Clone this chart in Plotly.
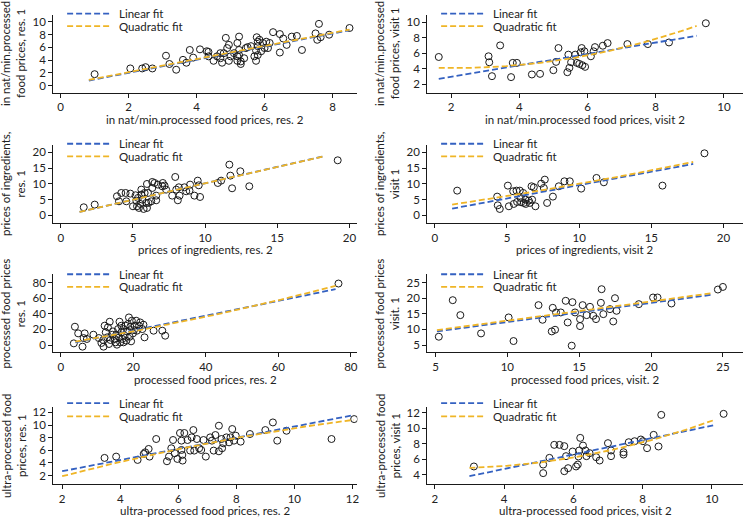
import numpy as np
import plotly.graph_objects as go

W, H = 750, 517

# ---- data ----
# panel 1: in nat/min.processed, residents
p1_x = [1.0, 2.05, 2.4, 2.5, 2.7, 3.1, 3.2, 3.4, 3.6, 3.7, 3.8, 3.9, 4.1, 4.3, 4.35, 4.35,
        4.5, 4.6, 4.7, 4.7, 4.75, 4.8, 4.86, 4.9, 4.95, 4.95, 5.0, 5.1, 5.2, 5.2, 5.2, 5.25,
        5.25, 5.25, 5.3, 5.3, 5.4, 5.45, 5.5, 5.6, 5.7, 5.75, 5.75, 5.77, 5.8, 5.8, 5.8, 5.85,
        5.9, 5.95, 6.0, 6.05, 6.1, 6.15, 6.25, 6.45, 6.45, 6.55, 6.65, 6.8, 6.95, 7.1, 7.5,
        7.55, 7.6, 7.65, 7.9, 8.5]
p1_y = [1.8, 2.7, 2.7, 2.9, 2.7, 4.7, 3.4, 2.5, 4.05, 3.6, 5.6, 4.4, 5.7, 5.4, 5.3, 4.6,
        3.9, 4.6, 5.1, 4.3, 3.6, 5.1, 7.5, 5.9, 3.9, 6.4, 4.6, 5.1, 4.6, 6.7, 3.9, 5.6,
        7.7, 4.8, 3.8, 3.4, 4.3, 5.9, 6.05, 6.2, 4.6, 3.9, 5.5, 7.6, 6.9, 6.2, 4.8, 7.2,
        5.4, 6.7, 5.9, 6.9, 5.9, 6.7, 8.4, 8.1, 5.2, 7.4, 6.4, 7.7, 7.8, 5.6, 8.2,
        7.2, 9.7, 7.6, 8.0, 9.05]

# panel 2: in nat/min.processed, visits
p2_x = [1.64, 3.10, 3.12, 3.2, 3.44, 3.76, 3.81, 3.93, 4.37, 4.61, 5.0, 5.08, 5.15, 5.41,
        5.44, 5.47, 5.52, 5.64, 5.69, 5.76, 5.8, 5.83, 5.85, 5.91, 5.93, 6.1, 6.18, 6.22,
        6.45, 6.59, 7.17, 7.77, 8.39, 9.47]
p2_y = [5.53, 5.62, 4.85, 3.06, 7.02, 2.94, 4.77, 4.77, 3.28, 3.36, 3.83, 4.9, 6.68, 3.57,
        5.83, 4.13, 4.85, 5.83, 4.77, 4.64, 6.13, 6.68, 4.47, 6.26, 4.26, 5.62, 6.26, 6.8,
        6.98, 7.32, 7.19, 7.19, 7.4, 9.87]

# panel 3: prices of ingredients, residents
p3_x = [1.59, 2.35, 3.89, 4.03, 4.19, 4.49, 4.54, 4.82, 5.0, 5.18, 5.23, 5.28, 5.35, 5.41,
        5.51, 5.58, 5.58, 5.65, 5.74, 5.81, 5.92, 5.97, 5.97, 6.04, 6.08, 6.27, 6.34, 6.34,
        6.5, 6.61, 6.61, 6.73, 7.03, 7.07, 7.19, 7.3, 7.72, 7.93, 8.0, 8.11, 8.18, 8.23,
        8.57, 8.69, 8.92, 8.96, 9.26, 9.49, 9.56, 9.65, 10.88, 11.11, 11.68, 11.75, 11.87,
        12.44, 13.06, 19.19]
p3_y = [2.54, 3.39, 6.03, 4.44, 7.09, 7.09, 4.44, 6.88, 2.86, 6.35, 4.66, 2.86, 5.5, 2.33,
        3.6, 8.15, 6.56, 4.97, 2.01, 7.09, 3.92, 9.95, 2.33, 7.09, 3.92, 4.44, 8.68, 10.58,
        10.26, 6.24, 4.76, 9.74, 9.21, 10.26, 9.42, 8.15, 6.24, 12.17, 8.15, 4.76, 8.89, 6.24,
        8.89, 7.62, 7.83, 9.74, 6.24, 11.0, 9.52, 5.82, 10.26, 11.0, 16.08, 12.59, 8.57,
        13.97, 9.21, 17.46]

# panel 4: prices of ingredients, visits
p4_x = [1.55, 4.32, 4.36, 4.5, 5.06, 5.13, 5.43, 5.47, 5.66, 5.7, 5.89, 5.94, 5.98, 6.12,
        6.17, 6.28, 6.3, 6.51, 6.58, 6.7, 6.74, 6.86, 6.97, 7.37, 7.55, 7.62, 7.78, 8.18,
        8.59, 8.98, 9.35, 10.14, 11.2, 11.71, 15.77, 18.68]
p4_y = [7.83, 5.93, 3.17, 2.01, 9.42, 2.86, 7.62, 3.6, 7.83, 4.23, 7.83, 5.5, 4.13, 7.09,
        3.92, 4.97, 3.6, 4.66, 3.92, 9.21, 4.97, 8.89, 2.86, 10.05, 8.68, 11.32, 3.92, 5.93,
        9.21, 10.79, 10.79, 8.47, 11.85, 10.48, 9.42, 19.68]

# panel 5: processed food prices, residents
p5_x = [3.6, 3.9, 4.8, 6.0, 6.3, 6.6, 7.2, 9.0, 10.5, 11.2, 11.7, 11.8, 12.1, 12.4, 12.8,
        13.0, 13.3, 13.5, 13.7, 14.2, 14.4, 14.9, 15.1, 15.3, 15.5, 15.8, 16.1, 16.2, 16.4,
        16.7, 16.7, 17.0, 17.2, 17.3, 17.6, 17.9, 18.1, 18.3, 18.5, 18.8, 19.0, 19.2, 19.4,
        19.6, 19.9, 20.2, 20.4, 20.8, 21.0, 21.6, 21.9, 22.5, 22.8, 23.1, 25.6, 28.0, 28.8,
        76.6]
p5_y = [2.1, 23.4, 14.9, -2.1, 8.9, 14.9, 7.7, 13.2, 8.9, 2.6, 6.4, -2.1, 24.7, 16.2, 9.8,
        22.6, 1.3, 29.8, 6.4, 13.2, 17.4, 7.7, 3.4, 13.2, 0.4, 20.4, 9.8, 29.8, 3.4,
        24.7, 16.2, 7.7, 20.4, 3.4, 11.9, 24.7, 5.5, 17.4, 26.8, 35.3, 10.6, 23.4, 4.7,
        31.1, 14.9, 19.1, 24.7, 31.1, 18.3, 24.7, 28.9, 20.4, 26.0, 9.8, 18.3, 18.3, 11.9,
        78.7]

# panel 6: processed food prices, visits
p6_x = [5.23, 6.2, 6.73, 8.17, 10.09, 10.43, 12.17, 12.45, 13.09, 13.16, 13.32, 13.39,
        13.72, 14.06, 14.2, 14.53, 14.48, 14.71, 15.06, 15.06, 15.24, 15.52, 15.75, 15.98,
        16.17, 16.51, 16.56, 16.68, 17.14, 17.37, 17.49, 17.6, 19.15, 20.14, 20.45, 21.42,
        24.65, 25.0]
p6_y = [7.66, 19.36, 14.57, 8.72, 13.83, 6.28, 17.77, 13.09, 9.36, 16.91, 9.89, 15.43,
        15.43, 19.15, 12.23, 18.72, 4.79, 15.43, 13.3, 11.06, 17.77, 14.57, 17.23, 14.36,
        13.3, 18.51, 22.87, 14.89, 16.49, 12.55, 20.0, 15.96, 18.09, 20.21, 20.21, 18.3,
        22.77, 23.6]

# panel 7: ultra-processed food prices, residents
p7_x = [3.46, 3.86, 4.6, 4.81, 4.86, 4.98, 5.01, 5.24, 5.61, 5.68, 5.76, 5.82, 5.88, 5.97,
        6.06, 6.11, 6.11, 6.14, 6.15, 6.21, 6.32, 6.41, 6.46, 6.52, 6.55, 6.64, 6.72, 6.79,
        6.87, 6.95, 7.1, 7.16, 7.22, 7.28, 7.4, 7.4, 7.49, 7.51, 7.55, 7.66, 7.75, 7.8,
        7.86, 7.92, 7.98, 8.15, 8.47, 9.0, 9.26, 9.41, 9.73, 11.28, 12.06]
p7_y = [4.79, 5.0, 4.47, 5.42, 5.68, 6.21, 5.0, 7.79, 4.26, 5.0, 6.32, 7.63, 5.53, 4.63,
        8.74, 7.53, 6.05, 5.26, 4.37, 8.74, 7.63, 5.95, 8.05, 9.21, 5.95, 7.79, 6.32, 6.05,
        7.63, 5.0, 8.05, 7.53, 5.95, 8.42, 5.84, 9.9, 7.79, 6.32, 7.11, 8.05, 7.26, 8.05,
        9.37, 7.53, 8.32, 7.37, 8.58, 9.21, 10.42, 7.53, 9.1, 7.79, 10.95]

# panel 8: ultra-processed food prices, visits
p8_x = [3.13, 5.13, 5.13, 5.31, 5.45, 5.6, 5.74, 5.74, 5.79, 5.85, 5.98, 6.08, 6.13, 6.15,
        6.17, 6.2, 6.28, 6.35, 6.38, 6.47, 6.66, 6.76, 7.0, 7.09, 7.09, 7.45, 7.45, 7.6,
        7.77, 7.95, 8.01, 8.13, 8.32, 8.46, 8.54, 10.34]
p8_y = [5.08, 4.22, 5.33, 6.19, 7.87, 7.87, 7.7, 4.47, 6.41, 4.86, 7.01, 5.08, 5.33, 6.37,
        7.14, 8.77, 7.78, 7.14, 6.41, 6.8, 6.28, 5.85, 8.09, 7.14, 6.41, 6.92, 6.62, 8.21,
        8.34, 8.56, 8.34, 7.44, 9.16, 7.66, 11.74, 11.87]

# fitted lines: [intercept, slope], [a, b, c] and the x span they cover
lin_fits = [[-0.05, 1.03], [1.52, 0.733], [-0.297, 1.044], [1.10, 0.849],
            [-0.39, 0.948], [6.24, 0.6126], [0.91, 0.886], [1.03, 0.932]]
quad_fits = [[0.04, 1.04, -0.001], [4.586, -0.455, 0.1078], [-0.28, 1.05, -0.0005],
             [2.59, 0.658, 0.008], [1.24, 0.753, 0.00302], [6.76, 0.589, 0.001],
             [-0.614, 1.312, -0.03], [5.45, -0.499, 0.105]]
fit_spans = [[0.83, 8.5], [1.64, 9.2], [1.3, 18.2], [1.2, 17.9],
             [4.0, 75.8], [5.1, 24.2], [2.0, 12.05], [3.0, 10.1]]

x_titles = ["in nat/min.processed food prices, res. 2",
            "in nat/min.processed food prices, visit 2",
            "prices of ingredients, res. 2",
            "prices of ingredients, visit 2",
            "processed food prices, res. 2",
            "processed food prices, visit. 2",
            "ultra-processed food prices, res. 2",
            "ultra-processed food prices, visit 2"]
y_titles = ["in nat/min.processed<br>food prices, res. 1",
            "in nat/min.processed<br>food prices, visit 1",
            "prices of ingredients,<br>res. 1",
            "prices of ingredients,<br>visit 1",
            "processed food prices<br>res. 1",
            "processed food prices<br>visit. 1",
            "ultra-processed food<br>prices, res. 1",
            "ultra-processed food<br>prices, visit 1"]

x_ranges = [[-0.22, 8.73], [1.3, 10.56], [-0.53, 20.55], [-0.53, 21.35],
            [-2.1, 81.8], [4.42, 26.4], [1.69, 12.17], [1.78, 10.9]]
y_ranges = [[-1.1, 11.1], [0.94, 10.94], [-2.4, 22.4], [-2.4, 22.4],
            [-9.4, 90.6], [2.66, 27.66], [0.68, 12.8], [2.84, 12.7]]
x_ticks = [[0, 2, 4, 6, 8], [2, 4, 6, 8, 10], [0, 5, 10, 15, 20], [0, 5, 10, 15, 20],
           [0, 20, 40, 60, 80], [5, 10, 15, 20, 25], [2, 4, 6, 8, 10, 12], [2, 4, 6, 8, 10]]
y_ticks = [[0, 2, 4, 6, 8, 10], [2, 4, 6, 8, 10], [0, 5, 10, 15, 20], [0, 5, 10, 15, 20],
           [0, 20, 40, 60, 80], [5, 10, 15, 20, 25], [2, 4, 6, 8, 10, 12], [4, 6, 8, 10, 12]]

xs = [p1_x, p2_x, p3_x, p4_x, p5_x, p6_x, p7_x, p8_x]
ys = [p1_y, p2_y, p3_y, p4_y, p5_y, p6_y, p7_y, p8_y]

# ---- layout in pixels ----
col_px = [(53.3, 358.3), (428.3, 745.0)]
row_px = [(13.0, 91.0), (143.3, 221.7), (273.3, 351.7), (407.0, 483.7)]
legend_rows = [(11.7, 24.3), (142.3, 155.0), (273.3, 286.0), (402.7, 416.0)]

BLUE = "#3461c1"
GOLD = "#efb526"
FONT = "Lato"
TXT = "#222222"


def px(x):
    return x / W


def py(y):
    return 1 - y / H


fig = go.Figure()
annotations = []
shapes = []

for i in range(8):
    n = i + 1
    row, col = i // 2, i % 2
    xa = "x" if n == 1 else f"x{n}"
    ya = "y" if n == 1 else f"y{n}"
    l, r = col_px[col]
    t, b = row_px[row]

    fig.add_trace(go.Scatter(
        x=xs[i], y=ys[i], mode="markers", xaxis=xa, yaxis=ya, showlegend=False,
        marker=dict(symbol="circle-open", size=7, color="#1a1a1a", line=dict(width=1)),
    ))

    gx = np.linspace(fit_spans[i][0], fit_spans[i][1], 100)
    a0, a1 = lin_fits[i]
    fig.add_trace(go.Scatter(
        x=gx, y=a0 + a1 * gx, mode="lines", xaxis=xa, yaxis=ya, showlegend=False,
        line=dict(color=BLUE, width=1.8, dash="6px,3px"),
    ))
    q0, q1, q2 = quad_fits[i]
    fig.add_trace(go.Scatter(
        x=gx, y=q0 + q1 * gx + q2 * gx ** 2, mode="lines", xaxis=xa, yaxis=ya,
        showlegend=False, line=dict(color=GOLD, width=1.8, dash="6px,3px"),
    ))

    axis_common = dict(showline=True, linecolor="#1a1a1a", linewidth=1, ticks="outside",
                       ticklen=4, tickwidth=1, tickcolor="#1a1a1a", showgrid=False,
                       zeroline=False, tickfont=dict(family=FONT, size=11.5, color=TXT))
    fig.update_layout(**{
        ("xaxis" if n == 1 else f"xaxis{n}"): dict(
            domain=[px(l), px(r)], anchor=ya, range=x_ranges[i], tickvals=x_ticks[i],
            **axis_common),
        ("yaxis" if n == 1 else f"yaxis{n}"): dict(
            domain=[py(b), py(t)], anchor=xa, range=y_ranges[i], tickvals=y_ticks[i],
            **axis_common),
    })

    # axis titles
    annotations.append(dict(x=px((l + r) / 2), y=py(b + 27), xref="paper", yref="paper",
                            text=x_titles[i], showarrow=False, xanchor="center",
                            yanchor="middle", font=dict(family=FONT, size=11.5, color=TXT)))
    annotations.append(dict(x=px(l - 40), y=py((t + b) / 2), xref="paper", yref="paper",
                            text=y_titles[i], showarrow=False, textangle=-90,
                            xanchor="center", yanchor="middle",
                            font=dict(family=FONT, size=11.5, color=TXT)))

    # legend drawn per panel
    for (label, color), ly in zip([("Linear fit", BLUE), ("Quadratic fit", GOLD)],
                                  legend_rows[row]):
        shapes.append(dict(type="line", xref="paper", yref="paper",
                           x0=px(l + 14), x1=px(l + 58), y0=py(ly), y1=py(ly),
                           line=dict(color=color, width=1.8, dash="6px,3px")))
        annotations.append(dict(x=px(l + 64), y=py(ly), xref="paper", yref="paper",
                                text=label, showarrow=False, xanchor="left",
                                yanchor="middle",
                                font=dict(family=FONT, size=11.5, color=TXT)))

fig.update_layout(
    width=W, height=H,
    margin=dict(l=0, r=0, t=0, b=0),
    paper_bgcolor="white",
    plot_bgcolor="white",
    annotations=annotations,
    shapes=shapes,
    showlegend=False,
)

# the page's default body margin would push the figure 8px down and right
fig.write_html("out.html", config={"displayModeBar": False},
               post_script="document.body.style.margin='0';")
